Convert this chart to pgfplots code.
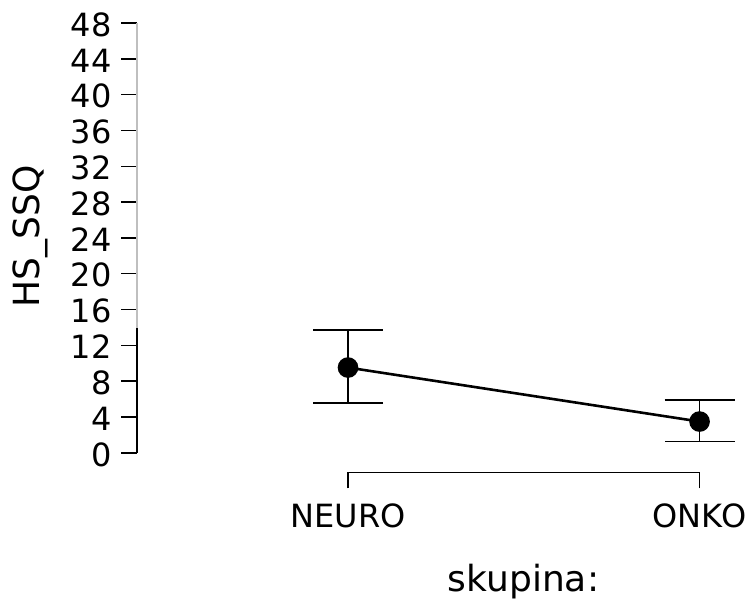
\documentclass[border=0pt]{standalone}
\usepackage{fontspec}
\setmainfont{DejaVu Sans}
\usepackage{pgfplots}
\pgfplotsset{compat=1.18}

\begin{document}
\begin{tikzpicture}
\begin{axis}[
  scale only axis,
  width=298.9pt, height=224.8pt,
  xmin=-0.6, xmax=1.1,
  ymin=-2.2, ymax=48,
  clip=false,
  axis lines*=left,
  axis line style={draw=none},
  xtick={0,1}, xticklabels={NEURO,ONKO},
  ytick={0,4,...,48},
  tick align=outside,
  major tick length=8pt,
  tick style={black, line width=0.75pt},
  /pgf/number format/assume math mode=true,
  tick label style={font=\fontsize{16}{19}\selectfont},
  yticklabel style={xshift=-1.2pt, yshift=-0.8pt},
  xticklabel style={yshift=-4pt},
  xlabel={skupina:},
  ylabel={HS\_SSQ},
  label style={font=\fontsize{18}{21}\selectfont},
  xlabel style={at={(axis description cs:0.6466,-0.265)}, anchor=base},
  ylabel style={at={(axis description cs:-0.163,0.525)}, anchor=base, rotate=0},
]
% axis frame lines (range frame)
\draw[black!25, line width=0.75pt] (axis cs:-0.6,13.9) -- (axis cs:-0.6,48);
\draw[black, line width=0.8pt] (axis cs:-0.6,0) -- (axis cs:-0.6,13.9);
\draw[black, line width=0.8pt] (axis cs:0,-2.2) -- (axis cs:1,-2.2);

\addplot[black, line width=1.3pt, mark=*, mark size=4.5pt,
  error bars/.cd, y dir=both, y explicit,
  error bar style={line width=0.9pt, black},
  error mark options={mark size=17.5pt, line width=0.9pt, black, rotate=90}]
  coordinates {
  (0,9.52) += (0,4.21) -= (0,3.94)
  (1,3.49) += (0,2.43) -= (0,2.23)
};

\coordinate (bl) at (axis cs:-0.99,-16.41);
\coordinate (tr) at (axis cs:1.1406,50.57);
\end{axis}
\pgfresetboundingbox
\path[use as bounding box] (bl) rectangle (tr);
\end{tikzpicture}
\end{document}
